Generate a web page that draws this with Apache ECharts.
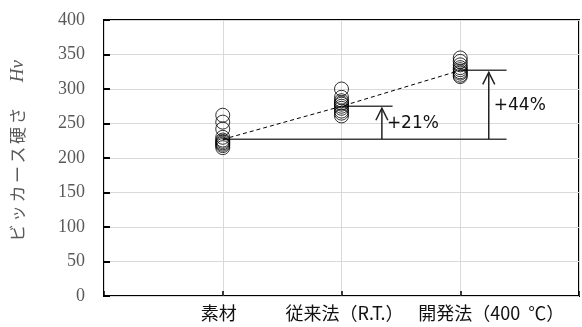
<!DOCTYPE html>
<html>
<head>
<meta charset="utf-8">
<script src="https://cdn.jsdelivr.net/npm/echarts@6/dist/echarts.min.js"></script>
<style>
  html, body { margin: 0; padding: 0; background: #fff; }
  #chart { width: 582px; height: 327px; }
</style>
</head>
<body>
<div id="chart"></div>
<script>
// Processes along the x axis (placed at x = 1, 2, 3)
const categories = ['素材', '従来法（R.T.）', '開発法（400  ℃）'];

// Individual Vickers hardness readings (Hv) per process
const materialHv = [262, 252, 242, 230, 226, 224, 222, 220, 218, 215];
const conventionalHv = [300, 288, 283, 280, 278, 275, 272, 268, 265, 261];
const developedHv = [345, 340, 335, 331, 328, 325, 323, 320, 318];

// Mean hardness per process
const meanHv = [227, 275, 327];

// Right end (x) of each mean level line, and x of the two gain arrows
const levelLineEnds = [3.39, 2.43, 3.39];
const arrowX = [2.34, 3.24];

// Hardness axis ticks
const hvMin = 0, hvMax = 400, hvStep = 50;

const gains = [1, 2].map(i => Math.round((meanHv[i] / meanHv[0] - 1) * 100));

function points(idx, arr) {
  return arr.map(v => [idx + 1, v]);
}

const chart = echarts.init(document.getElementById('chart'), null, { renderer: 'canvas' });

const circleStyle = { color: 'rgba(0,0,0,0)', borderColor: '#000', borderWidth: 1 };

const levelSeries = meanHv.map((m, i) => ({
  type: 'line',
  data: [[i + 1, m], [levelLineEnds[i], m]],
  symbol: 'none',
  lineStyle: { color: '#404040', width: 1.5 },
  silent: true,
  z: 3
}));

const labelFont = { fontFamily: 'Noto Sans CJK JP', fontSize: 18, color: '#111' };

const option = {
  animation: false,
  backgroundColor: '#fff',
  grid: {
    left: 100, right: 2, top: 20, bottom: 31,
    show: true, borderColor: '#000', borderWidth: 2, backgroundColor: 'transparent'
  },
  xAxis: {
    type: 'value', min: 0, max: 4, interval: 1,
    axisLine: { show: false },
    axisTick: { show: true, inside: true, length: 5, lineStyle: { color: '#000', width: 1.5 } },
    splitLine: { show: true, lineStyle: { color: '#d9d9d9', width: 1 } },
    axisLabel: {
      margin: 8,
      formatter: v => {
        const i = Math.round(v) - 1;
        return (i >= 0 && i < categories.length) ? `{c${i}|${categories[i]}}` : '';
      },
      rich: {
        c0: Object.assign({ padding: [0, 8, 0, 0] }, labelFont),
        c1: Object.assign({ padding: [0, 0, 0, 6] }, labelFont),
        c2: Object.assign({ padding: [0, 0, 0, 62] }, labelFont)
      }
    }
  },
  yAxis: {
    type: 'value', min: hvMin, max: hvMax, interval: hvStep,
    axisLine: { show: false },
    axisTick: { show: true, inside: true, length: 6, lineStyle: { color: '#000', width: 2 } },
    splitLine: { show: true, lineStyle: { color: '#d9d9d9', width: 1 } },
    axisLabel: { fontFamily: 'Liberation Serif', fontSize: 18, color: '#595959', margin: 19 },
    name: '{p| }{j|ビ}{j|ッ}{j|カ}{j|ー}{j|ス}{j|硬}{j|さ}{s| }{h|Hv}',
    nameLocation: 'middle',
    nameRotate: 90,
    nameGap: 77,
    nameTextStyle: {
      rich: {
        p: { fontSize: 15, width: 13 },
        j: { fontFamily: 'Noto Sans CJK JP', fontSize: 17, color: '#595959', width: 19.5, align: 'center' },
        s: { fontSize: 15, width: 24 },
        h: { fontFamily: 'Liberation Serif', fontStyle: 'italic', fontSize: 19, color: '#595959' }
      }
    }
  },
  series: [
    ...levelSeries,
    {
      type: 'line',
      data: meanHv.map((m, i) => [i + 1, m]),
      symbol: 'none',
      lineStyle: { color: '#000', width: 1, type: [4, 3] },
      silent: true,
      z: 3
    },
    { type: 'scatter', data: points(0, materialHv), symbol: 'circle', symbolSize: 14, itemStyle: circleStyle, z: 4 },
    { type: 'scatter', data: points(1, conventionalHv), symbol: 'circle', symbolSize: 14, itemStyle: circleStyle, z: 4 },
    { type: 'scatter', data: points(2, developedHv), symbol: 'circle', symbolSize: 14, itemStyle: circleStyle, z: 4 },
    {
      // Gain arrows from the base level up to each improved level, with % labels
      type: 'custom',
      silent: true,
      z: 5,
      data: arrowX.map((x, k) => [x, meanHv[0], meanHv[k + 1], gains[k]]),
      renderItem: (params, api) => {
        const base = api.coord([api.value(0), api.value(1)]);
        const tip = api.coord([api.value(0), api.value(2)]);
        const tx = base[0];
        const ty = tip[1] + 2;
        const stroke = { stroke: '#222', lineWidth: 1.5, fill: null };
        return {
          type: 'group',
          children: [
            { type: 'line', shape: { x1: tx, y1: base[1], x2: tx, y2: ty }, style: stroke },
            { type: 'polyline', shape: { points: [[tx - 6, ty + 12], [tx, ty], [tx + 6, ty + 12]] }, style: stroke },
            {
              type: 'text',
              x: tx + 5,
              y: (base[1] + tip[1]) / 2 + 1,
              style: {
                text: '+' + api.value(3) + '%',
                fontFamily: 'DejaVu Sans',
                fontSize: 17,
                fill: '#111',
                align: 'left',
                verticalAlign: 'middle'
              }
            }
          ]
        };
      }
    }
  ]
};

chart.setOption(option);
</script>
</body>
</html>
